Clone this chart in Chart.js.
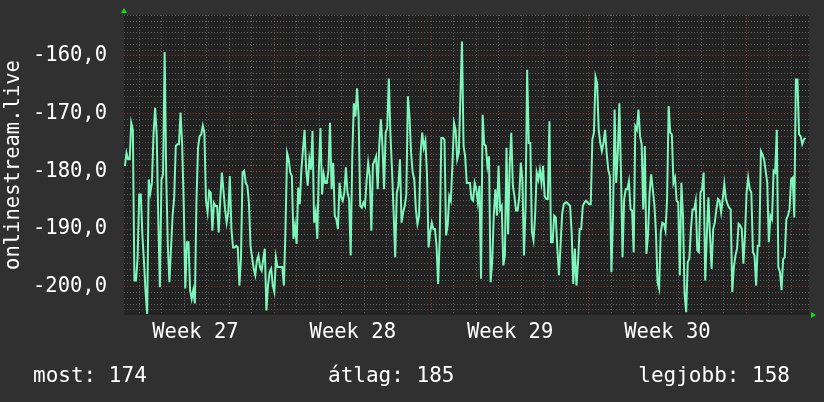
<!DOCTYPE html>
<html>
<head>
<meta charset="utf-8">
<script src="https://cdn.jsdelivr.net/npm/chart.js@4.4.0/dist/chart.umd.min.js"></script>
<style>
  html, body { margin: 0; padding: 0; background: #303030; }
  #wrap { position: relative; width: 824px; height: 402px; }
</style>
</head>
<body>
<div id="wrap"><canvas id="chart" width="824" height="402"></canvas></div>
<script>
// values, in four chunks from left to right
const part1 = [
  -179.1, -176.8, -177.9, -177.9, -171.6, -172.8, -198.9, -198.9, -194.9, -184.0,
  -184.0, -191.1, -195.7, -200.9, -204.7, -181.4, -183.7, -182.0, -173.6, -169.0,
  -173.6, -188.3, -200.1, -181.4, -180.5, -159.3, -180.8, -192.9, -199.2, -193.4,
  -187.7, -184.5, -175.6, -175.3, -175.3, -169.8, -175.3, -185.7, -200.3, -192.3,
  -192.3, -200.6, -202.1, -200.6, -202.9, -185.1, -175.9, -173.9, -173.6, -172.1,
  -173.3, -185.1, -187.1, -183.4, -183.7, -190.3, -185.5, -186.0, -186.0, -190.6,
  -184.8, -180.2, -183.4, -186.6, -188.9, -187.1, -180.8, -190.0, -193.2, -193.2,
  -192.9, -193.2, -199.8, -195.2, -180.2, -179.9, -182.0, -182.5, -185.4, -192.9,
  -194.9, -196.9, -198.0, -195.5, -194.6, -196.6, -197.2, -195.2, -193.4, -204.1,
  -199.8, -197.5, -196.9, -199.8, -200.9, -194.9, -196.6, -196.6, -196.6, -196.6,
  -199.8, -190.0, -176.8, -177.9, -180.2, -180.8, -191.7, -189.4, -192.6, -182.8,
  -185.7, -179.7, -176.2, -172.8, -179.7, -182.5, -177.9, -179.7, -173.0, -188.9,
  -187.1, -191.7, -179.7, -172.5
];
const part2 = [
  -184.0, -180.5, -182.0, -182.0, -179.9, -171.6, -183.1, -178.5, -187.7, -188.3,
  -190.0, -182.0, -184.5, -185.1, -183.7, -179.3, -183.7, -184.8, -194.6, -177.4,
  -168.2, -170.5, -165.6, -170.5, -186.0, -186.3, -185.4, -186.0, -181.7, -178.5,
  -180.8, -190.3, -178.8, -178.2, -177.4, -183.1, -175.3, -171.0, -175.6, -183.1,
  -173.3, -172.5, -163.9, -173.6, -179.7, -187.1, -194.9, -183.7, -182.5, -177.9,
  -188.9, -187.1, -186.0, -184.0, -167.0, -170.5, -176.8, -180.2, -181.4, -186.6,
  -189.1, -187.7, -176.8, -173.3, -175.9, -174.7, -180.5, -193.2, -190.6, -188.9,
  -190.0, -190.0, -192.9, -199.5, -191.7, -174.2, -174.2, -174.5, -191.1, -189.4,
  -184.3, -185.1, -178.8, -171.6, -172.8, -177.9, -176.8, -167.0, -157.5, -175.6,
  -177.4, -182.0, -182.0, -182.0, -184.8, -185.1, -182.0, -183.1, -185.4, -182.5,
  -198.6, -170.2, -175.3, -175.6, -179.1, -177.4, -199.2, -195.7, -187.7, -183.1,
  -187.7, -179.1, -186.6, -186.0, -196.3, -194.6, -175.9, -190.9, -179.1, -173.3,
  -182.5, -184.3, -186.8
];
const part3 = [
  -186.8, -184.5, -178.5, -181.4, -194.6, -186.0, -162.4, -175.1, -175.1, -190.6,
  -192.0, -187.7, -180.2, -181.4, -179.7, -182.0, -179.1, -184.3, -184.8, -184.8,
  -171.3, -192.3, -192.3, -187.7, -188.0, -193.4, -198.0, -192.9, -187.4, -185.7,
  -185.4, -185.4, -185.7, -186.0, -190.6, -199.5, -193.4, -199.8, -195.7, -190.0,
  -190.0, -186.0, -185.4, -185.1, -185.4, -185.7, -185.7, -174.5, -173.3, -163.6,
  -164.7, -172.8, -175.1, -176.5, -175.1, -172.8, -176.8, -179.7, -180.8, -197.5,
  -187.7, -169.3, -182.0, -176.8, -168.2, -180.2, -194.9, -184.8, -183.1, -183.1,
  -181.7, -186.6, -186.8, -194.0, -172.2, -172.8, -169.3, -173.9, -175.3, -186.6,
  -175.6, -194.3, -191.1, -183.7, -180.5, -183.1, -185.7, -190.6, -199.2, -200.3,
  -190.6, -188.9, -189.1, -190.3, -184.8, -168.7, -173.3, -173.6, -182.0, -181.1,
  -185.1, -185.4, -198.0, -182.0, -187.7, -201.2, -204.4, -195.7, -195.2, -190.0,
  -186.6, -186.6, -185.1, -193.7, -194.0, -183.7, -183.1, -180.2, -198.9, -191.1,
  -184.5, -191.1
];
const part4 = [
  -196.9, -190.0, -188.9, -186.6, -184.8, -185.1, -187.1, -184.8, -182.2, -184.8,
  -185.7, -186.3, -186.6, -200.9, -196.6, -194.6, -193.4, -189.1, -189.4, -190.0,
  -196.0, -191.1, -183.7, -181.1, -183.1, -183.7, -194.0, -194.6, -199.8, -192.9,
  -192.9, -176.5, -177.1, -177.9, -179.9, -182.0, -192.3, -187.7, -188.3, -179.9,
  -180.2, -172.8, -196.6, -197.5, -200.6, -195.2, -194.9, -188.3, -187.7, -186.6,
  -181.4, -181.1, -188.0, -164.1, -164.1, -173.6, -173.9, -175.3, -174.5, -174.2
];
const values = [...part1, ...part2, ...part3, ...part4];

// time axis in days (day 0 = first day line inside the graph)
const firstDay = -0.64;
const lastDay = 29.64;
const xMin = -0.68, xMax = 29.8;
const yMin = -204.9, yMax = -152.9;
const weekNames = ['Week 27', 'Week 28', 'Week 29', 'Week 30'];
const weekMid = [2.5, 9.5, 16.5, 23.5];
const weekStart = [6, 13, 20, 27];
const summary = ['most: 174', 'átlag: 185', 'legjobb: 158'];
const yLabel = 'onlinestream.live';

const MONO = '"DejaVu Sans Mono", monospace';
const GRID = 'rgba(110,110,110,0.75)';
const MAJOR = 'rgba(160,50,50,0.9)';

const step = (lastDay - firstDay) / (values.length - 1);
const points = values.map((v, i) => ({ x: firstDay + i * step, y: v }));

// one grid line per whole unit inside the range
function unitTicks(s) {
  const t = [];
  for (let v = Math.ceil(s.min); v <= Math.floor(s.max); v++) t.push({ value: v });
  s.ticks = t;
}

const rrdDecor = {
  id: 'rrdDecor',
  beforeDraw(chart) {
    const { ctx, chartArea: a } = chart;
    ctx.save();
    ctx.fillStyle = '#232323';
    ctx.fillRect(a.left, a.top, a.right - a.left, a.bottom - a.top);
    ctx.restore();
  },
  afterDraw(chart) {
    const { ctx, chartArea: a } = chart;
    ctx.save();
    ctx.fillStyle = '#ffffff';
    ctx.font = '20.5px ' + MONO;
    // vertical axis title
    ctx.translate(14, (a.top + a.bottom) / 2);
    ctx.rotate(-Math.PI / 2);
    ctx.textAlign = 'center';
    ctx.textBaseline = 'middle';
    ctx.fillText(yLabel, 0, 0);
    ctx.restore();

    // legend line at the bottom
    ctx.save();
    ctx.fillStyle = '#ffffff';
    ctx.font = '21px ' + MONO;
    ctx.textBaseline = 'alphabetic';
    ctx.textAlign = 'left';
    ctx.fillText(summary[0], 33, 382);
    ctx.fillText(summary[1], 328, 382);
    ctx.textAlign = 'right';
    ctx.fillText(summary[2], 790, 382);

    // the little green arrows at the axis ends
    ctx.fillStyle = '#11dd11';
    ctx.beginPath();
    ctx.moveTo(a.left - 3, a.top - 2);
    ctx.lineTo(a.left + 3, a.top - 2);
    ctx.lineTo(a.left, a.top - 7);
    ctx.closePath();
    ctx.fill();
    ctx.beginPath();
    ctx.moveTo(a.right + 2, a.bottom - 3);
    ctx.lineTo(a.right + 2, a.bottom + 3);
    ctx.lineTo(a.right + 7, a.bottom);
    ctx.closePath();
    ctx.fill();
    ctx.restore();
  }
};

new Chart(document.getElementById('chart'), {
  type: 'line',
  data: {
    datasets: [{
      data: points,
      borderColor: '#7ef5ba',
      borderWidth: 2,
      pointRadius: 0,
      tension: 0,
      fill: false
    }]
  },
  options: {
    responsive: false,
    animation: false,
    devicePixelRatio: 1,
    parsing: false,
    layout: { padding: { left: 0, right: 15, top: 15, bottom: 0 } },
    plugins: { legend: { display: false }, tooltip: { enabled: false } },
    scales: {
      x: {
        type: 'linear',
        position: 'bottom',
        min: xMin,
        max: xMax,
        afterBuildTicks: unitTicks,
        ticks: { display: false, autoSkip: false },
        grid: {
          drawTicks: false,
          color: c => weekStart.includes(Math.round(c.tick.value)) ? MAJOR : GRID
        },
        border: { display: false, dash: [1, 2] },
        afterFit: s => { s.height = 0; s.paddingLeft = 0; s.paddingRight = 0; }
      },
      x2: {
        type: 'linear',
        position: 'bottom',
        min: xMin,
        max: xMax,
        afterBuildTicks: s => { s.ticks = weekMid.map(v => ({ value: v })); },
        ticks: {
          autoSkip: false,
          maxRotation: 0,
          padding: 5,
          color: '#ffffff',
          font: { family: MONO, size: 20.5 },
          callback: (v, i) => weekNames[i]
        },
        grid: { display: false, drawTicks: false },
        border: { display: false },
        afterFit: s => { s.height = 87; s.paddingLeft = 0; s.paddingRight = 0; }
      },
      y: {
        min: yMin,
        max: yMax,
        afterBuildTicks: unitTicks,
        ticks: {
          autoSkip: false,
          padding: 17,
          color: '#ffffff',
          font: { family: MONO, size: 20.5 },
          callback: v => Math.round(v) % 10 === 0 ? v.toFixed(1).replace('.', ',') : ''
        },
        grid: {
          drawTicks: false,
          color: c => Math.round(c.tick.value) % 10 === 0 ? MAJOR : GRID
        },
        border: { display: false, dash: [1, 2] },
        afterFit: s => { s.width = 124; s.paddingTop = 0; s.paddingBottom = 0; }
      }
    }
  },
  plugins: [rrdDecor]
});
</script>
</body>
</html>
